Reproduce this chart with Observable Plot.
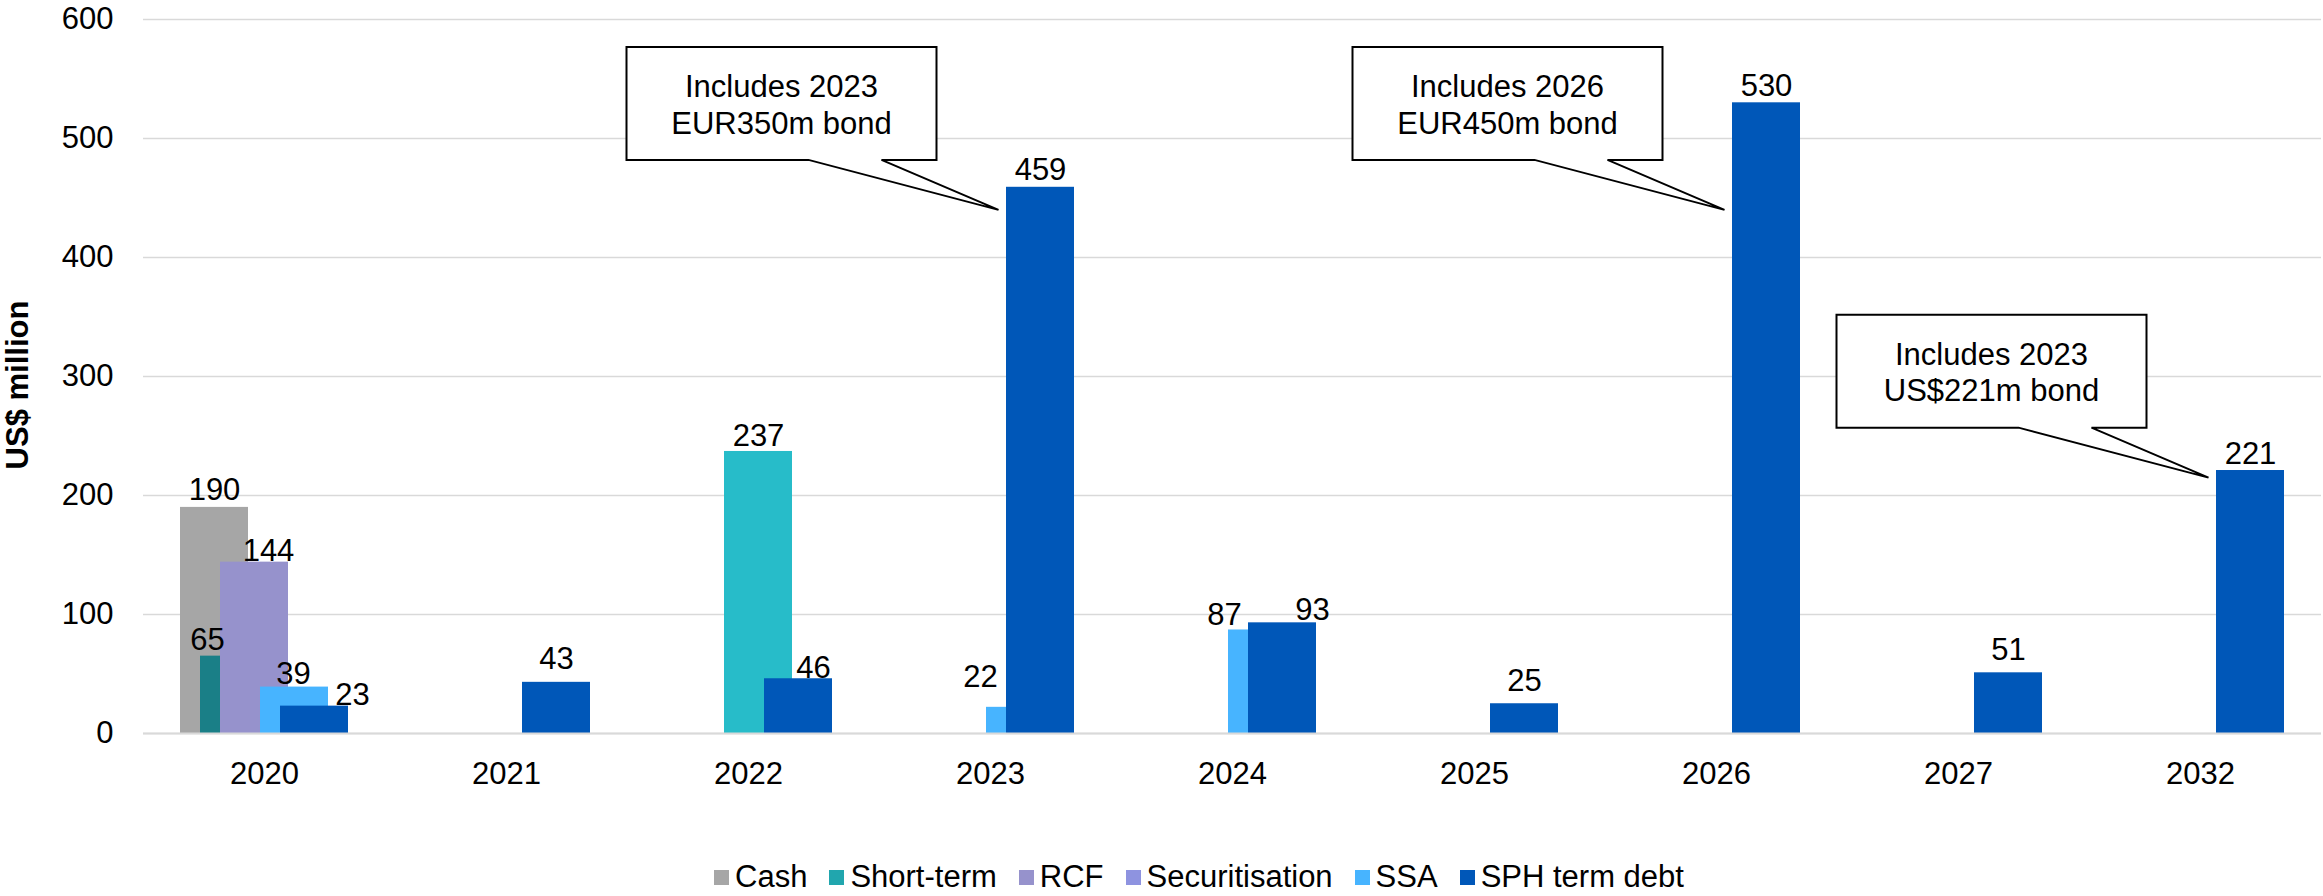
<!DOCTYPE html>
<html><head><meta charset="utf-8">
<script src="https://cdn.jsdelivr.net/npm/d3@7"></script>
<script src="https://cdn.jsdelivr.net/npm/@observablehq/plot@0.6"></script>
<style>
html,body{margin:0;padding:0;background:#fff;}
#wrap{position:relative;width:2323px;height:896px;overflow:hidden;font-family:"Liberation Sans",Arial,sans-serif;color:#000;}
#chart{position:absolute;left:0;top:0;}
#ytitle{position:absolute;left:18px;top:385px;transform:translate(-50%,-50%) rotate(-90deg);font-weight:bold;font-size:31px;white-space:nowrap;}
#legend{position:absolute;left:714px;top:859px;display:flex;align-items:center;font-size:31px;line-height:36px;white-space:nowrap;}
.item{display:flex;align-items:center;margin-right:22px;}
.sw{width:15px;height:15px;margin-right:6px;}
</style></head>
<body><div id="wrap"><div id="chart"></div><div id="ytitle">US$ million</div><div id="legend"></div></div>
<script>
// ---- data ----
const years = ["2020","2021","2022","2023","2024","2025","2026","2027","2032"];
const seriesNames = ["Cash","Short-term","RCF","Securitisation","SSA","SPH term debt"];
const cash           = [190, 0,   0,   0,  0,  0,   0,  0,   0];
const shortTerm      = [ 65, 0,   0,   0,  0,  0,   0,  0,   0];
const rcf            = [144, 0,   0,   0,  0,  0,   0,  0,   0];
const securitisation = [  0, 0, 237,   0,  0,  0,   0,  0,   0];
const ssa            = [ 39, 0,   0,  22, 87,  0,   0,  0,   0];
const sphTermDebt    = [ 23,43,  46, 459, 93, 25, 530, 51, 221];
const seriesValues = [cash, shortTerm, rcf, securitisation, ssa, sphTermDebt];
const yTicks = [0,100,200,300,400,500,600];
const callouts = [
  {year: "2023", tip: 440, label: "Includes 2023\nEUR350m bond"},
  {year: "2026", tip: 440, label: "Includes 2026\nEUR450m bond"},
  {year: "2032", tip: 215, label: "Includes 2023\nUS$221m bond"}
];

// ---- styles ----
const seriesColors = {"Cash":"#a6a6a6","Short-term":"#21a6ae","RCF":"#9692cc","Securitisation":"#8e93e0","SSA":"#47b4ff","SPH term debt":"#0057b8"};
const pointColors = {"2020|Short-term":"#1a7f87","2022|Securitisation":"#27bcc9"};
const labelNudge = {
  "2020|Short-term":[-27,1],"2020|RCF":[14,6],"2020|SSA":[-1,4],"2020|SPH term debt":[38,6],
  "2021|SPH term debt":[0,-6],"2022|Securitisation":[0,2],"2022|SPH term debt":[15,6],
  "2023|SSA":[-40,-13],"2024|SSA":[-38,2],"2024|SPH term debt":[30,4],
  "2025|SPH term debt":[0,-6],"2027|SPH term debt":[0,-6]
};
const calloutAnchorSeries = "Securitisation";
const calloutShape = {draw(ctx){
  ctx.moveTo(-372,-163); ctx.lineTo(-62,-163); ctx.lineTo(-62,-50); ctx.lineTo(-117,-50);
  ctx.lineTo(0,0); ctx.lineTo(-190,-50); ctx.lineTo(-372,-50); ctx.closePath();
}};

const rows = [];
years.forEach((yr, i) => seriesNames.forEach((s, j) => {
  const v = seriesValues[j][i];
  if (v) rows.push({year: yr, series: s, value: v});
}));
const key = d => d.year + "|" + d.series;
const fillOf = d => pointColors[key(d)] || seriesColors[d.series];

const labelMarks = rows.map(d => {
  const [ndx, ndy] = labelNudge[key(d)] || [0, 0];
  return Plot.text([d], {fx: "year", x: "series", y: "value", text: r => String(r.value),
    dx: ndx, dy: -7 + ndy, lineAnchor: "bottom", textAnchor: "middle", fill: "#000"});
});

const plot = Plot.plot({
  width: 2323, height: 820,
  marginLeft: 141, marginRight: 0, marginTop: 19, marginBottom: 87,
  style: {fontSize: "31px", fontFamily: "'Liberation Sans', Arial, sans-serif", color: "#000", background: "white", overflow: "visible"},
  fx: {domain: years, padding: 0, label: null, tickSize: 0, tickPadding: 28, axis: "bottom"},
  x: {domain: seriesNames, paddingInner: 0, paddingOuter: 3, axis: null},
  y: {domain: [0, 600], ticks: yTicks, tickSize: 0, tickPadding: 30, label: null},
  color: {type: "identity"},
  marks: [
    Plot.ruleY(yTicks, {stroke: "#d9d9d9", strokeWidth: 1.5}),
    Plot.barY(rows, {fx: "year", x: "series", y: "value", fill: fillOf, insetLeft: -24, insetRight: -24}),
    Plot.ruleY([0], {stroke: "#d9d9d9", strokeWidth: 2}),
    Plot.dot(callouts, {fx: "year", x: () => calloutAnchorSeries, y: "tip", symbol: calloutShape,
      fill: "white", stroke: "black", strokeWidth: 2, dx: -2}),
    Plot.text(callouts, {fx: "year", x: () => calloutAnchorSeries, y: "tip", text: "label",
      dx: -219, dy: -106, lineAnchor: "middle", lineHeight: 1.17, textAnchor: "middle", fill: "#000"}),
    ...labelMarks
  ]
});
document.getElementById("chart").appendChild(plot);

const legend = document.getElementById("legend");
seriesNames.forEach(s => {
  const it = document.createElement("div"); it.className = "item";
  const sw = document.createElement("div"); sw.className = "sw"; sw.style.background = seriesColors[s];
  const tx = document.createElement("span"); tx.textContent = s;
  it.appendChild(sw); it.appendChild(tx); legend.appendChild(it);
});
</script>
</body></html>
